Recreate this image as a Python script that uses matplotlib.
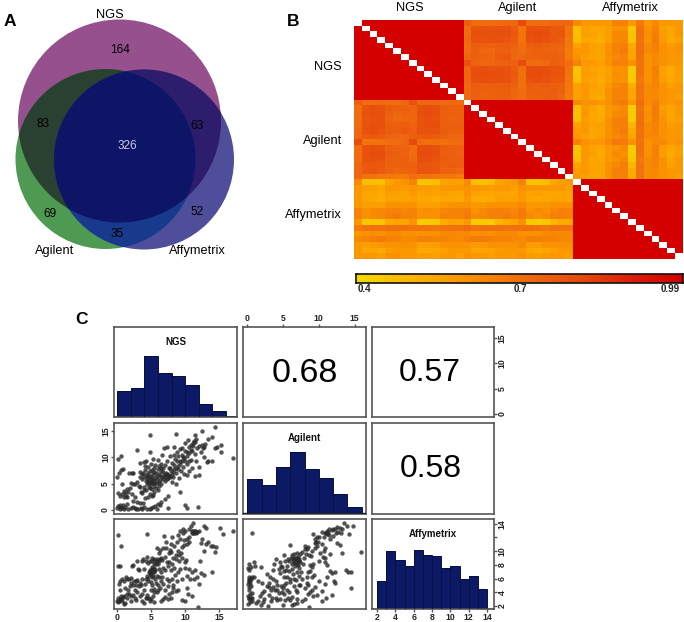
import numpy as np
import matplotlib
matplotlib.use("Agg")
import matplotlib.pyplot as plt
from matplotlib.colors import LinearSegmentedColormap
from matplotlib.patches import Circle, Polygon

plt.rcParams['font.family'] = ['Liberation Sans', 'DejaVu Sans']
W, H = 684, 622

# ---------- Panel A data
venn_labels = ["NGS", "Agilent", "Affymetrix"]
venn_counts = ["164", "83", "63", "326", "69", "52", "35"]

# ---------- Panel B data
groups = ["NGS", "Agilent", "Affymetrix"]
ngs_agilent = [
 [.74,.70,.70,.70,.70,.72,.72,.80,.70,.70,.70,.72,.72,.72],
 [.70,.77,.78,.77,.78,.78,.75,.68,.78,.78,.78,.76,.76,.68],
 [.70,.79,.79,.78,.79,.79,.76,.68,.79,.80,.79,.76,.77,.68],
 [.71,.78,.78,.78,.78,.77,.75,.68,.78,.79,.78,.76,.75,.67],
 [.70,.75,.74,.73,.74,.75,.73,.70,.74,.75,.74,.73,.73,.67],
 [.70,.74,.72,.71,.74,.74,.72,.70,.73,.74,.73,.73,.72,.66],
 [.72,.74,.73,.72,.75,.76,.72,.72,.73,.73,.74,.74,.73,.66],
 [.78,.73,.72,.72,.73,.74,.74,.80,.70,.70,.71,.74,.73,.70],
 [.72,.78,.79,.78,.78,.78,.75,.70,.79,.80,.79,.77,.77,.68],
 [.72,.79,.80,.79,.79,.78,.76,.69,.80,.80,.79,.77,.77,.68],
 [.72,.78,.79,.78,.79,.78,.75,.69,.78,.79,.78,.76,.76,.67],
 [.71,.75,.74,.74,.74,.75,.73,.69,.75,.74,.75,.74,.73,.67],
 [.71,.74,.74,.73,.74,.74,.72,.70,.74,.74,.74,.75,.73,.67],
 [.71,.74,.73,.73,.74,.74,.72,.70,.73,.73,.74,.74,.72,.66],
]
ngs_affy = [
 [.62,.58,.58,.58,.58,.64,.64,.58,.66,.58,.62,.58,.58,.58],
 [.47,.56,.54,.54,.56,.60,.60,.45,.68,.60,.64,.56,.54,.58],
 [.47,.56,.55,.53,.57,.62,.62,.46,.69,.61,.65,.57,.54,.58],
 [.48,.54,.53,.52,.56,.62,.63,.46,.68,.60,.66,.58,.53,.56],
 [.55,.58,.56,.55,.60,.64,.65,.53,.69,.62,.65,.60,.57,.60],
 [.58,.58,.56,.55,.60,.64,.66,.55,.69,.62,.64,.60,.58,.60],
 [.60,.57,.55,.55,.60,.63,.64,.55,.69,.60,.62,.60,.58,.58],
 [.64,.58,.58,.56,.60,.64,.64,.60,.68,.60,.62,.60,.58,.58],
 [.46,.57,.55,.54,.56,.60,.60,.44,.68,.60,.65,.56,.53,.57],
 [.46,.57,.56,.54,.56,.61,.60,.44,.68,.60,.65,.56,.53,.57],
 [.48,.56,.55,.52,.56,.60,.60,.45,.67,.60,.64,.57,.54,.56],
 [.55,.58,.56,.54,.58,.63,.64,.52,.68,.62,.64,.60,.56,.58],
 [.56,.58,.55,.54,.60,.64,.64,.55,.68,.62,.63,.60,.58,.58],
 [.56,.58,.54,.53,.60,.64,.64,.54,.68,.62,.62,.60,.58,.56],
]
agilent_affy = [
 [.62,.60,.60,.58,.60,.65,.66,.58,.70,.62,.65,.60,.58,.60],
 [.47,.58,.55,.52,.58,.60,.62,.44,.68,.60,.66,.57,.54,.58],
 [.46,.58,.54,.52,.58,.62,.63,.44,.69,.61,.66,.58,.54,.58],
 [.48,.57,.54,.53,.60,.64,.65,.44,.69,.60,.65,.60,.55,.56],
 [.55,.58,.55,.56,.60,.65,.65,.50,.69,.62,.64,.60,.57,.58],
 [.57,.58,.54,.55,.60,.64,.66,.53,.68,.62,.64,.60,.58,.58],
 [.58,.56,.54,.56,.60,.63,.64,.55,.69,.62,.63,.60,.58,.58],
 [.64,.60,.58,.58,.62,.66,.66,.60,.68,.60,.62,.62,.58,.60],
 [.46,.58,.55,.54,.58,.60,.62,.44,.69,.60,.65,.57,.54,.57],
 [.46,.58,.56,.53,.58,.62,.60,.44,.68,.60,.65,.57,.53,.56],
 [.48,.58,.54,.54,.58,.60,.62,.45,.67,.62,.64,.60,.54,.58],
 [.54,.58,.54,.55,.60,.63,.65,.50,.68,.62,.64,.60,.56,.58],
 [.56,.58,.55,.55,.60,.65,.65,.53,.68,.62,.63,.60,.58,.58],
 [.58,.56,.54,.54,.60,.64,.64,.53,.68,.62,.62,.60,.58,.56],
]
same_group = 0.99
scale_labels = ["0.4", "0.7", "0.99"]

# ---------- Panel C data
hist_ngs_edges = [0, 2, 4, 6, 8, 10, 12, 14, 16, 18]
hist_ngs = [26, 29, 61, 44, 41, 32, 13, 6, 1]
hist_agilent_edges = [0, 2, 4, 6, 8, 10, 12, 14, 16]
hist_agilent = [34, 28, 46, 61, 44, 35, 19, 6]
hist_affy_edges = [2, 3, 4, 5, 6, 7, 8, 9, 10, 11, 12, 13, 14]
hist_affy = [28, 58, 49, 43, 59, 54, 53, 41, 43, 30, 33, 20]
corr_ngs_agilent, corr_ngs_affy, corr_agilent_affy = "0.68", "0.57", "0.58"

scatter_ngs_agilent = [
 (14.4,15.8),(12.5,15),(11.4,14.3),(8.6,14.5),(4.8,14.3),(3,11.4),(17,9.9),(.2,9.6),(.6,10.2),(13.9,13.8),(13.3,13.4),(12.9,12.6),
 (15.2,12.4),(14.7,12),(14.4,11.8),(15.3,11),(13.9,9.2),(13.2,9.1),(12.7,10),(12.1,6.6),(11.4,6.4),(10.3,6.6),(11.9,.6),(9.3,3.5),
 (10,.9),(10.2,.3),(7.5,.3),(0,.3),(.2,.8),(.4,.2),(.7,.4),(1,.2),(1.1,.5),(2,.3),(2.3,.5),(2.8,.2),(3.1,.2),(3.5,.4),(3.7,.1),(4,.5),
 (4.4,.1),(4.8,.1),(5,.4),(5.3,.5),(5.6,.7),(6,1.2),(6.5,1.5),(7,2),(7.5,2.7),(0,6.2),(.3,7),(.6,7.6),(.9,7.8),(.7,5),(.1,3.3),(.4,2.6),
 (.7,3),(1,3.6),(1.3,2.7),(1.5,2.5),(1.6,3.5),(1.4,4),(1.9,4.2),(2.2,3),(2.4,1.8),(2.6,2.4),(3,1.5),(3.3,1.3),(3.8,1.4),(4.1,2.3),(4.6,2.4),
 (4.8,3),(5.1,2.6),(5.3,2.8),(2.2,7),(2.4,7.1),(2.4,4.9),(2.7,5),(3,5.3),(3.2,4.6),(3.4,4.3),(3.5,3.5),(3.7,3.2),(3.9,3.8),(4,4.3),(4.2,3.7),
 (4.4,4.9),(4.5,5.4),(4.7,4.4),(4.9,4.1),(5,5),(5.2,5.5),(5.2,4),(5.4,3.4),(5.5,4.6),(5.7,4.2),(5.8,5.2),(6,3.8),(6.2,4.6),(6.3,5.7),(6.5,5),
 (3.4,7.2),(3.6,6.8),(3.8,7),(4,6.2),(4.1,7.6),(4.2,6.6),(4.4,6),(4.6,7),(4.8,6.4),(4.9,7.4),(5,5.9),(5.2,7.6),(5.3,6.8),(5.5,7.9),(5.6,6),
 (5.7,7),(5.9,6.5),(6,7.7),(6.1,8.3),(6.2,6.9),(6.4,7.4),(6.5,8.8),(6.6,6.2),(6.7,7.9),(6.9,6.6),(7,8.5),(7.1,5.5),(7.2,7.1),(7.4,9.2),
 (7.5,6),(7.6,8),(7.7,6.7),(7.8,10.2),(7.9,7.4),(8,5.3),(8.1,8.9),(8.2,6.2),(8.3,10.5),(8.4,7.8),(8.5,9.6),(8.6,5),(8.7,7),(8.8,11),(8.9,8.4),
 (9,10.2),(9.1,6.1),(9.2,9.2),(9.4,7.4),(9.5,11.8),(9.6,10.5),(9.7,8.1),(9.8,6.8),(9.9,9.8),(10,12.8),(10,11.2),(10.2,8.8),(10.3,10.3),(10.4,13.2),
 (10.5,12),(10.5,9.2),(10.6,7.4),(10.8,11.4),(10.9,9.4),(11,8),(11.2,12.2),(11.3,13.1),(11.4,10.6),(11.5,12.9),(11.6,9.3),(11.8,11.8),(12,12.2),
 (12.1,8.2),(12.3,11),(12.5,12.4),(12.6,11.7),(12.8,12),(13.4,9.2),(3.3,9),(3.9,9.1),(4.1,8.4),(4.3,9.3),(4.6,8.2),(5,8.7),(5.3,9.6),(5.6,8.6),(6,9.5),
 (6.6,10.5),(6.9,11.7),(7.3,12),(8.3,12),(9.3,11.5),(4.9,11),(1.8,7),(2,5.2),(.5,1),(1.4,1.1),(.9,.9),(5.9,.2),(6.3,.9),
 (5.1,5.7),(5.3,5.2),(5.5,5.5),(5.2,6.2),(5.6,5.1),(4.8,5.2),(4.6,5.7),(5.9,5.8),(6.1,5.4),(6.8,5.9),(7,6.3),(7.2,6.6),(7.4,6.9),(7.6,6.4),(7.3,5.9),
 (7.8,6.2),(8,6.7),(8.2,7.2),(7.8,7.9),(8.4,8.6),(8.6,8),(9,7.7),(8.8,9.3),(9.3,8.7),(9.6,9.2),(10,9.3),(9.7,10.1),(10.2,11),(10.6,10.8),(11,11.2),
 (11.1,12.7),(10.8,12.4),(11.6,13.4),(6.4,8),(6.8,7.3),(6.3,6.4),(5.4,7.3),(4.5,6.5),(4.2,5.5),(3.7,5.8),(3.3,6.2),(1.2,3.2),(1,2.5),(.4,.6),(1.6,.2),(2.6,.4),
]
scatter_ngs_affy = [
 (.2,12.4),(.6,10.8),(4.4,12.5),(11.2,14.1),(17,13),(15.1,13.4),(15.5,12.5),(14.4,9.9),(13.9,7),(11.9,1.9),(.2,7.9),(.5,7.9),
 (0,2.8),(.1,3.1),(.3,2.7),(.5,3),(.6,3.4),(.8,3.1),(1,3.4),(1.2,2.5),(1.4,3.8),(1.6,4.3),(1.8,3.8),(2,3.4),(2.3,3.6),(2.6,3.2),(2.8,2.9),
 (3,4),(3.3,3.5),(3.6,2.8),(4,2.4),(4.2,3.2),(4.4,3.1),(4.7,3.2),(5,3),(5.3,3.5),(5.5,2.6),(5.8,4),(6,4.4),(6.4,2.7),(6.8,3),(7.5,3),(7.9,3.1),
 (8,4.1),(8.2,4.6),(9.5,2.9),(10,2.7),(10.4,3.7),(10.3,4.6),(11,3.5),(.3,5.2),(.4,5.7),(.5,4.3),(.7,6),(1,5.6),(1.1,4.6),(1.3,6.2),(1.5,6),(1.8,6),
 (2,5.4),(2.1,6.1),(2.3,5.1),(2.5,5.7),(2.8,5),(3,5.8),(3.2,4.9),(3.5,5),(3.6,6),(3.9,4.4),(4.1,5.2),(4.2,6),(4.4,6.4),(4.5,5.6),(4.7,7),(4.8,6.6),
 (5,7.1),(5.1,6.2),(5.2,7.4),(5.2,5),(5.4,7),(5.5,4.5),(5.6,6),(5.7,5.4),(5.9,6.4),(6,5),(6.2,7.4),(6.3,4.6),(6.4,5.6),(6.6,6.2),(6.8,5.2),(7,7.2),
 (7.1,4.4),(7.3,6),(7.5,4.9),(7.7,5.6),(7.9,7.3),(8,6),(8.2,5),(8.4,7.6),(8.5,6.5),(8.8,5.6),(9,6.9),(9.2,7.4),(9.5,5.9),(10,7.6),(10.2,6.4),(10.5,7.4),
 (10.7,6),(11,7),(11.3,5.9),(11.5,7.3),(11.8,6.2),(12,5.2),(12.3,6.8),(12.7,6.5),(2.2,7.9),(2.3,8),(3.1,7.4),(3.2,7.3),(3.6,8.6),(3.8,8.9),(4,7.4),
 (4.2,8.5),(4.4,9.2),(4.6,8.3),(4.9,8.6),(5.2,9),(5.4,8.2),(5.6,8.5),(5.8,8.9),(6,8.1),(6.1,9.8),(6.2,8.6),(6.3,10.2),(6.5,9),(6.7,10.5),(7,9.2),
 (7.2,10.4),(7.3,8.4),(7.6,9.8),(7.8,10.2),(7.9,11),(8,12),(8.2,9),(8.4,10.7),(8.6,9.4),(8.8,11.4),(9,10),(9.1,8.5),(9.3,11.8),(9.4,9.8),(9.6,10.6),
 (9.7,12.7),(9.9,10.9),(10,12.9),(10.1,8.7),(10.3,11),(10.5,13.3),(10.6,12),(10.8,13.7),(11,12.9),(11.2,13),(11.3,12.6),(11.5,13),(11.7,12.8),(12,13),
 (12.3,11.2),(12.7,13.7),(13,13.4),(13.1,11),(13.4,11.4),(13.8,10.7),(14.1,10.7),(14.5,10.6),(12.5,11.8),(12.8,10),(12.2,8.6),(10,8.4),(6.9,12.2),
 (7.2,11.4),(5.9,10.5),(3,8.5),(8.9,12.4),(9.3,13),(9.7,13.2),(5,5.5),(5.3,6.4),(4.9,6.9),(5.5,7.2),(5.1,7.7),(1,2.3),(2,2.8),(3.7,3.8),
 (5.2,8.6),(5.5,8.8),(5.7,8.2),(5.9,8.6),(6.3,8.9),(6.6,8.7),(4.9,7.3),(5.4,7.6),(5.6,7.3),(5,6.5),(5.3,6.9),(4.6,6.1),(5,4.4),(5.4,4),(4.4,3.6),(4.9,2.8),
 (.2,2.6),(.4,2.9),(.7,2.8),(.9,3.3),(1.4,3.1),(7.9,9.9),(8.6,8.9),(9.1,9.4),(9.5,9),(9.9,11.6),(10.3,11.8),(10.5,11.4),(11,12.6),(11.2,12.7),(11.4,12.9),
 (11.6,12.7),(6.1,6.2),(6.4,7),(6.7,7.6),(7.5,7.8),(7.7,8.4),(8,8.2),(3.4,5.3),(2.8,5.6),(2.6,4.4),(1.9,4.9),(7.6,3.7),(7.1,3.3),(8.6,4.2),(9,4.4),
]
scatter_agilent_affy = [
 (.6,12.7),(15.9,9.9),(13.5,14.1),(14.5,4.6),(8.6,1.9),(6,10.9),(14.1,7),(14.5,7),(13.8,7.3),(.3,8.2),(.1,7.6),(.5,7.7),(.2,7.2),
 (.2,6),(.3,5.6),(.4,5.3),(.1,5.2),(.6,6.2),(.5,5.9),(.3,4.4),(.4,3.8),(.1,3.5),(.2,3.2),(.5,3.1),(.6,3.9),(.1,2.3),(.7,3.1),(1.2,2.5),(1.5,2.7),(1.9,2.2),
 (2.2,2.6),(2.9,2),(3.3,2.8),(4.2,2.9),(4.6,3),(5,2.1),(5.3,2.9),(5.7,3.2),(6,2.9),(6.2,2.2),(6.6,2.3),(7,2.5),(7.6,2.8),(8,3),(8.5,3.7),(9.2,3.4),(9.8,3.6),
 (10.5,2.7),(11,3.1),(11.8,3.6),(1,6.2),(1.5,5.6),(2,5.4),(2.4,4.2),(2.7,4.9),(3,5.3),(3,3.6),(3.3,4.3),(3.6,5.9),(3.9,4.4),(4,3.2),(4.2,5.1),(4.4,3.9),(4.7,4.9),
 (5,4.6),(5.2,3.7),(5.4,5.4),(5.6,6.2),(5.9,4.1),(6,5.5),(6.2,3.3),(6.4,6.6),(6.6,4.9),(6.8,5.8),(7,4),(7.2,6.4),(7.4,5.1),(7.6,6),(8.1,4.6),(8.5,5),(8.7,4),(9,4.3),
 (9.5,4.8),(10,5.6),(10.4,4.2),(10.8,5.2),(11.2,6.2),(11.5,7.1),(11.8,6.8),(12.1,5.6),(12.3,6.9),(12.2,5.3),(1,8.4),(1.1,7.8),(1.9,7.7),(2.8,6.6),(3.6,7.2),(3.8,8.1),
 (4,8.9),(4.4,7.4),(4.6,6.8),(4.6,8.4),(4.9,7.7),(5.1,6.2),(5.2,9.4),(5.4,7.3),(5.6,7.9),(5.7,8.9),(5.9,7.1),(6.1,9),(6.2,8.1),(6.3,7.4),(6.4,8.6),(6.5,9.6),(6.7,7.9),
 (6.8,8.4),(6.9,9),(7,6.9),(7.1,8),(7.2,8.6),(7.3,7.5),(7.5,7),(7.7,9.9),(7.8,8.2),(8,10.3),(8.1,10.7),(8.2,9.6),(8.3,6.2),(8.5,6.9),(8.6,9.4),(8.8,7.1),(9,10),(9,6.3),
 (9.2,12.5),(9.4,11.2),(9.5,10.5),(9.6,11.4),(9.8,10.8),(10,12),(10,8.6),(10.2,9.7),(10.4,12.8),(10.5,11),(10.7,12),(10.8,8.4),(10.9,9),(11,12.6),(11.1,8),(11.2,13),(11.4,12.4),
 (11.5,9.6),(11.6,11.8),(11.8,13.1),(12,12.2),(12.2,13.3),(12.4,12.6),(12.5,11.2),(12.7,12.8),(12.9,13.4),(13,10.9),(13.2,9.8),(13.1,12.6),(13.3,13.3),(14,13.7),(14.2,12.5),(14.8,13.7),
 (6.8,4.3),(7,3),(7.3,5),(3.2,6.2),(4,5.6),(5.1,7.1),(7.9,9),(6,6),(6.6,6),(8.8,8),(9.1,7.7),(3.5,3.2),(1.8,3.5),(2.4,3),(2.1,3.9),
 (6.5,8.9),(6.7,9),(6.9,8.7),(7,8.9),(7.1,9.2),(6.4,9),(6.6,8.3),(7.3,8.9),(7.4,8.4),(6.9,8.1),(5.9,8.6),(6.2,9.4),(7,9.7),(7.4,9.6),(5.3,8.5),(4.7,7.8),
 (.2,5.6),(.4,5.8),(.3,6.3),(.5,4.9),(.2,4.7),(.3,3),(.4,2.6),(.6,2.8),(3,4.8),(3.6,4.7),(4.2,4.3),(4.8,4.1),(5.2,5),(5.5,4.3),(9.5,11.8),(9.7,12),(9.9,11.4),
 (10.8,12.7),(11.2,12.5),(11.3,12.8),(11.4,13.2),(12,13.2),(12.6,13.5),(10.7,10),(10.9,10.5),(10.6,9.2),(8.3,10.3),(8.5,10.6),(8.9,9.3),(9.2,8.1),(9.3,6.5),(8.4,5.4),
]

# ---------- Helpers
fig = plt.figure(figsize=(W / 100, H / 100), dpi=100)

def axes_px(x0, y0, x1, y1, **kw):
    return fig.add_axes([x0 / W, 1 - y1 / H, (x1 - x0) / W, (y1 - y0) / H], **kw)

page = axes_px(0, 0, W, H)
page.set_xlim(0, W); page.set_ylim(H, 0); page.axis('off')

def txt(x, y, s, size=8.5, **kw):
    kw.setdefault('ha', 'center'); kw.setdefault('va', 'center')
    page.text(x, y, s, fontsize=size, **kw)

def overlap(circles):
    """Outline of the common area of convex circles, seen from an inner point."""
    c = np.array([p[:2] for p in circles], float)
    r = np.array([p[2] for p in circles], float)
    o = c.mean(axis=0)
    pts = []
    for a in np.linspace(0, 2 * np.pi, 720, endpoint=False):
        d = np.array([np.cos(a), np.sin(a)])
        t = []
        for ci, ri in zip(c, r):
            f = o - ci
            b = f @ d
            t.append(-b + np.sqrt(b * b - (f @ f - ri * ri)))
        pts.append(o + min(t) * d)
    return np.array(pts)

# ---------- Panel A
c_ngs, c_agi, c_aff = (119.5, 121, 101.5), (105.5, 159, 90), (144, 159.5, 90)
for circ, col in [(c_ngs, '#96508E'), (c_agi, '#4F9A52'), (c_aff, '#4F4E9A')]:
    page.add_patch(Circle(circ[:2], circ[2], fc=col, ec='none', zorder=1))
for group, col in [((c_ngs, c_agi), '#2A4030'), ((c_ngs, c_aff), '#2E1C6C'),
                   ((c_agi, c_aff), '#183A8C'), ((c_ngs, c_agi, c_aff), '#0F1566')]:
    page.add_patch(Polygon(overlap(group), closed=True, fc=col, ec='none', zorder=2))
for (x, y), s in zip([(120, 50), (43, 124), (197, 126), (127, 146), (50, 214), (197, 212), (117, 234)], venn_counts):
    txt(x, y, s, color='#C8C8F0' if s == '326' else 'black', zorder=3)
for (x, y), s in zip([(110, 15), (55, 251), (197, 251)], venn_labels):
    txt(x, y, s, 9.2, zorder=3)
txt(10, 22, "A", 12.5, fontweight='bold')
txt(293, 21, "B", 12.5, fontweight='bold')
txt(81, 320, "C", 12.5, fontweight='bold')

# ---------- Panel B
cmap = LinearSegmentedColormap.from_list("ry", [
    (0.0, '#F2DA00'), (0.17, '#FFB400'), (0.34, '#FA9200'), (0.51, '#F06C10'),
    (0.68, '#E84C0C'), (0.85, '#DC1E06'), (1.0, '#D40000')])
cmap.set_bad('white')
ab, ac, bc = np.array(ngs_agilent), np.array(ngs_affy), np.array(agilent_affy)
same = np.full((14, 14), same_group)
M = np.block([[same, ab, ac], [ab.T, same, bc], [ac.T, bc.T, same]])
np.fill_diagonal(M, np.nan)
axb = axes_px(354, 20, 683, 259)
axb.imshow(M, cmap=cmap, vmin=0.4, vmax=0.99, aspect='auto', interpolation='nearest')
axb.axis('off')
for x, s in zip([410, 518, 630], groups):
    txt(x, 8, s, 9.2)
for y, s in zip([67, 141, 215], groups):
    txt(342, y, s, 9.2, ha='right')
axc = axes_px(356, 274, 683, 283)
axc.imshow(np.linspace(0.4, 0.99, 256)[None, :], cmap=cmap, aspect='auto',
           vmin=0.4, vmax=0.99, extent=(0.4, 0.99, 0, 1))
axc.set_xticks([]); axc.set_yticks([])
for sp in axc.spines.values():
    sp.set_linewidth(1.2); sp.set_color('#111111')
for x, s in zip([364, 520, 670], scale_labels):
    txt(x, 289, s, 7, fontweight='bold', color='#222222')

# ---------- Panel C
xs = [(114, 237), (243, 366), (372, 494)]
ys = [(327, 417), (423, 514), (519, 609)]
GRAY = '#555555'
lim_ngs, lim_agi_x, lim_aff_x = (-0.44, 17.6), (-0.6, 16.6), (1.45, 14.76)
lim_agi_y, lim_ngs_y, lim_aff_y = (-0.76, 16.5), (-0.6, 17.2), (1.56, 14.7)

def panel(r, c):
    ax = axes_px(xs[c][0], ys[r][0], xs[c][1], ys[r][1])
    ax.set_xticks([]); ax.set_yticks([])
    ax.tick_params(length=2, width=1, color=GRAY, pad=0.8, labelsize=6.2, labelcolor='#222222')
    for sp in ax.spines.values():
        sp.set_linewidth(1.2); sp.set_color(GRAY)
    return ax

def bold_ticks(ax):
    for t in ax.get_xticklabels() + ax.get_yticklabels():
        t.set_fontweight('bold')

def hist(ax, edges, vals, name, xlim, xt):
    ax.stairs(vals, edges, fill=True, facecolor='#0C1A66', zorder=2)
    ax.stairs(vals, edges, fill=False, edgecolor='#080F40', linewidth=0.7, zorder=2)
    for e, v0, v1 in zip(edges[1:-1], vals[:-1], vals[1:]):
        ax.vlines(e, 0, min(v0, v1), color='#080F40', lw=0.7, zorder=3)
    ax.axhline(0, color='#222222', lw=1, zorder=3)
    ax.set_xlim(*xlim); ax.set_ylim(-0.5, 90)
    ax.text(xt[0], xt[1], name, transform=ax.transAxes, ha='center', va='center',
            fontsize=7, fontweight='bold', color='#111111')

def scatter(ax, pts, xlim, ylim):
    p = np.array(pts)
    ax.scatter(p[:, 0], p[:, 1], s=10, color='#2A2A2A', alpha=0.8, lw=0, zorder=2)
    ax.set_xlim(*xlim); ax.set_ylim(*ylim)

a = panel(0, 0)
hist(a, hist_ngs_edges, hist_ngs, "NGS", lim_ngs, (0.5, 0.83))
a = panel(1, 1)
hist(a, hist_agilent_edges, hist_agilent, "Agilent", lim_agi_x, (0.5, 0.83))
a = panel(2, 2)
hist(a, hist_affy_edges, hist_affy, "Affymetrix", lim_aff_x, (0.5, 0.83))
a.set_ylim(-0.5, 90)
a.set_xticks([2, 4, 6, 8, 10, 12, 14]); bold_ticks(a)
b = a.twinx()
b.set_ylim(*lim_aff_y)
b.set_yticks([2, 4, 6, 8, 10, 12, 14], ['2', '4', '6', '8', '10', '', '14'])
b.tick_params(length=2, width=1, color=GRAY, pad=0.8, labelsize=6.2, labelcolor='#222222')
for t in b.get_yticklabels():
    t.set_rotation(90); t.set_va('center'); t.set_fontweight('bold')
for sp in b.spines.values():
    sp.set_visible(False)

for (r, c), s, size, px, py in [((0, 1), corr_ngs_agilent, 24.5, 0.5, 0.485),
                                ((0, 2), corr_ngs_affy, 23, 0.47, 0.485),
                                ((1, 2), corr_agilent_affy, 23, 0.485, 0.495)]:
    a = panel(r, c)
    a.text(px, py, s, transform=a.transAxes, ha='center', va='center', fontsize=size, color='black')
    if (r, c) == (0, 1):
        a.set_xlim(*lim_agi_x)
        a.xaxis.tick_top(); a.set_xticks([0, 5, 10, 15]); bold_ticks(a)
    if (r, c) == (0, 2):
        a.set_ylim(*lim_ngs_y)
        a.yaxis.tick_right(); a.set_yticks([0, 5, 10, 15])
        for t in a.get_yticklabels():
            t.set_rotation(90); t.set_va('center'); t.set_fontweight('bold')

a = panel(1, 0)
scatter(a, scatter_ngs_agilent, lim_ngs, lim_agi_y)
a.set_yticks([0, 5, 10, 15])
for t in a.get_yticklabels():
    t.set_rotation(90); t.set_va('center'); t.set_fontweight('bold')
a = panel(2, 0)
scatter(a, scatter_ngs_affy, lim_ngs, lim_aff_y)
a.set_xticks([0, 5, 10, 15]); bold_ticks(a)
a = panel(2, 1)
scatter(a, scatter_agilent_affy, lim_agi_x, lim_aff_y)

fig.savefig("out.png", dpi=100)
